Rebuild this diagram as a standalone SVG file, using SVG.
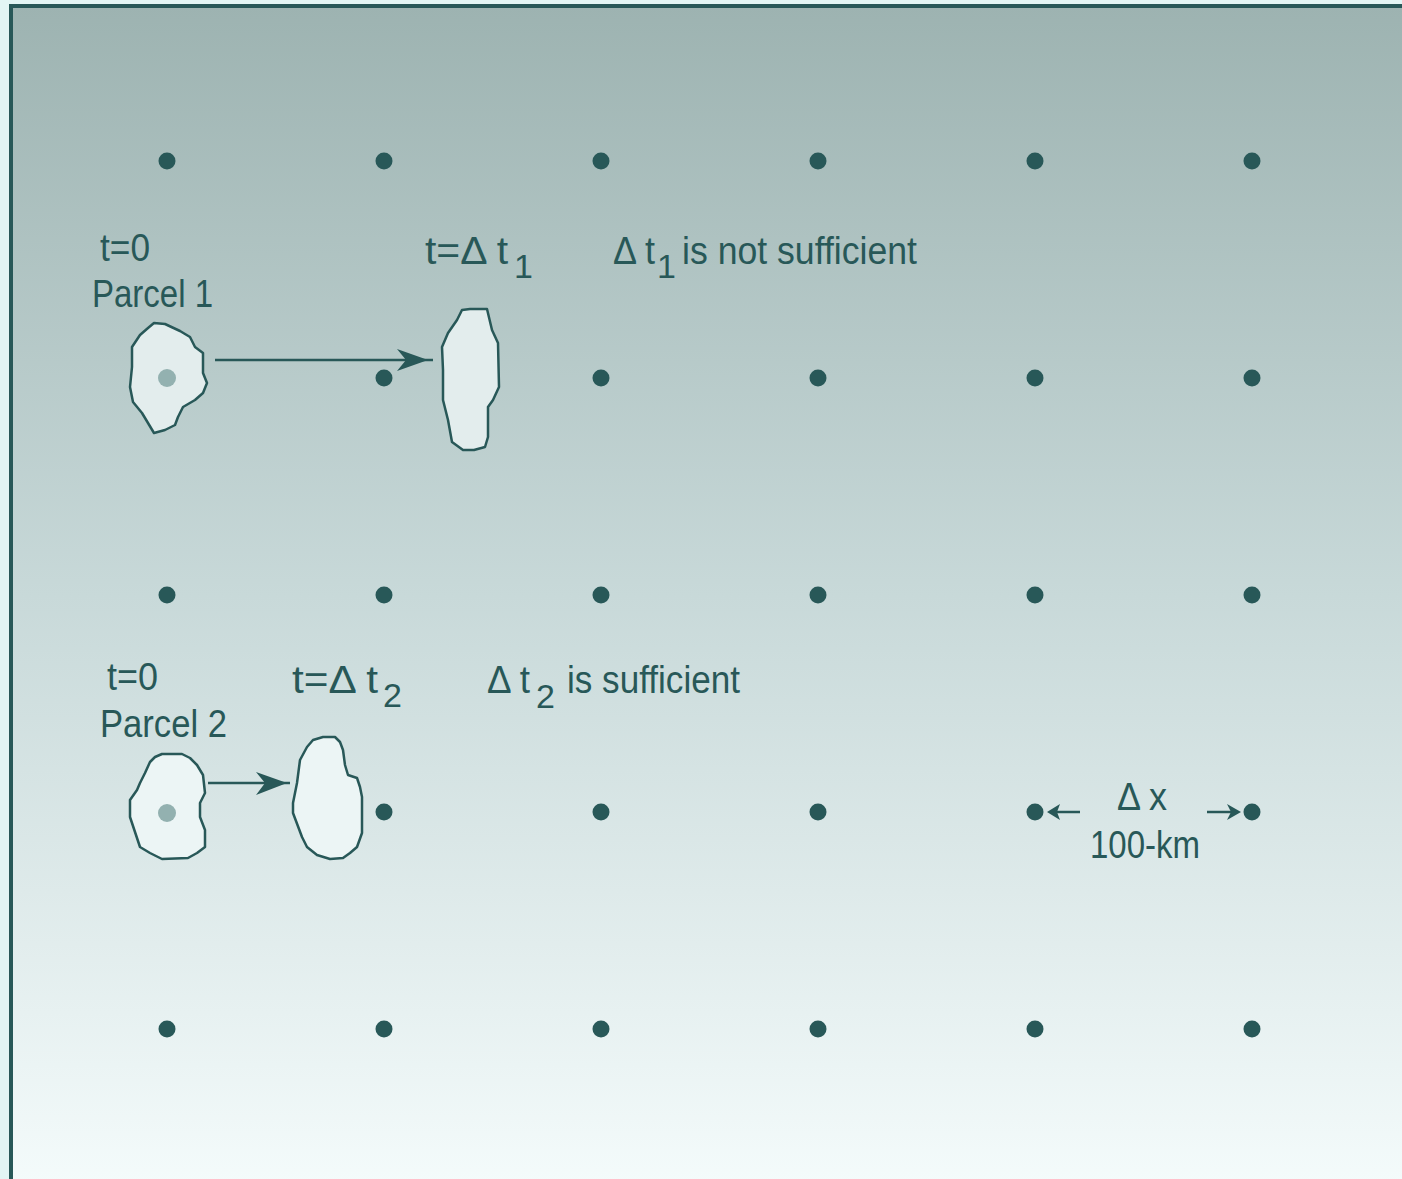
<svg xmlns="http://www.w3.org/2000/svg" width="1402" height="1179" viewBox="0 0 1402 1179">
  <defs>
    <linearGradient id="bg" x1="0" y1="0" x2="0" y2="1">
      <stop offset="0" stop-color="#9db3b1"/>
      <stop offset="0.5" stop-color="#c8d9d9"/>
      <stop offset="1" stop-color="#f4fbfb"/>
    </linearGradient>
    <style>
      .dot { fill: #285858; }
      .parcel { fill: #e3eded; stroke: #285858; stroke-width: 2.5; stroke-linejoin: round; }
      .parcel2 { fill: #ecf5f5; stroke: #285858; stroke-width: 2.5; stroke-linejoin: round; }
      .core { fill: #93b1b0; }
      .lbl { font-family: "Liberation Sans", Arial, sans-serif; font-size: 38px; fill: #285858; }
      .sub { font-family: "Liberation Sans", Arial, sans-serif; font-size: 34px; fill: #285858; }
      .line { stroke: #285858; stroke-width: 2.5; fill: none; }
      .head { fill: #285858; }
    </style>
  </defs>
  <rect x="0" y="0" width="1402" height="1179" fill="#e2f5f4"/>
  <rect x="11" y="6" width="1395" height="1180" fill="url(#bg)" stroke="#285858" stroke-width="4"/>

  <g id="grid">
    <circle class="dot" cx="167" cy="161" r="8.5"/>
    <circle class="dot" cx="384" cy="161" r="8.5"/>
    <circle class="dot" cx="601" cy="161" r="8.5"/>
    <circle class="dot" cx="818" cy="161" r="8.5"/>
    <circle class="dot" cx="1035" cy="161" r="8.5"/>
    <circle class="dot" cx="1252" cy="161" r="8.5"/>
    <circle class="dot" cx="384" cy="378" r="8.5"/>
    <circle class="dot" cx="601" cy="378" r="8.5"/>
    <circle class="dot" cx="818" cy="378" r="8.5"/>
    <circle class="dot" cx="1035" cy="378" r="8.5"/>
    <circle class="dot" cx="1252" cy="378" r="8.5"/>
    <circle class="dot" cx="167" cy="595" r="8.5"/>
    <circle class="dot" cx="384" cy="595" r="8.5"/>
    <circle class="dot" cx="601" cy="595" r="8.5"/>
    <circle class="dot" cx="818" cy="595" r="8.5"/>
    <circle class="dot" cx="1035" cy="595" r="8.5"/>
    <circle class="dot" cx="1252" cy="595" r="8.5"/>
    <circle class="dot" cx="384" cy="812" r="8.5"/>
    <circle class="dot" cx="601" cy="812" r="8.5"/>
    <circle class="dot" cx="818" cy="812" r="8.5"/>
    <circle class="dot" cx="1035" cy="812" r="8.5"/>
    <circle class="dot" cx="1252" cy="812" r="8.5"/>
    <circle class="dot" cx="167" cy="1029" r="8.5"/>
    <circle class="dot" cx="384" cy="1029" r="8.5"/>
    <circle class="dot" cx="601" cy="1029" r="8.5"/>
    <circle class="dot" cx="818" cy="1029" r="8.5"/>
    <circle class="dot" cx="1035" cy="1029" r="8.5"/>
    <circle class="dot" cx="1252" cy="1029" r="8.5"/>
  </g>

  <g id="parcel1-t0">
    <polygon class="parcel" points="154,323 165,324 180,331 190,337 195,347 203,353 203,373 207,383 203,393 195,400 183,407 178,417 175,425 165,430 154,433 148,423 142,413 133,402 130,387 132,367 132,347 140,335 148,328"/>
    <circle class="core" cx="167" cy="378" r="9"/>
  </g>
  <g id="parcel1-t1">
    <polygon class="parcel" points="462,310 470,309 487,309 492,330 498,343 499,387 493,400 488,407 488,437 485,447 474,450 463,450 452,442 448,420 443,400 443,370 442,347 448,333 457,320"/>
  </g>
  <g id="parcel2-t0">
    <polygon class="parcel2" points="155,757 162,754 182,754 190,758 197,765 203,775 205,793 200,803 200,817 205,830 205,847 197,853 188,858 162,859 150,853 140,847 135,832 130,817 130,800 137,790 140,783 145,773 150,762"/>
    <circle class="core" cx="167" cy="813" r="9"/>
  </g>
  <g id="parcel2-t2">
    <polygon class="parcel2" points="313,740 323,737 335,737 340,742 343,750 345,765 348,775 357,778 360,787 362,797 362,833 357,847 350,853 343,858 330,859 317,855 307,847 302,837 293,813 293,803 297,783 300,760 307,747"/>
  </g>

  <g id="connectors">
    <line class="line" x1="215" y1="360" x2="433" y2="360"/>
    <path class="head" d="M397,349 L428,360 L397,371 L406,360 Z"/>
    <line class="line" x1="208" y1="783" x2="290" y2="783"/>
    <path class="head" d="M256,772 L287,783 L256,795 L265,783 Z"/>
    <line class="line" x1="1056" y1="812" x2="1080" y2="812"/>
    <path class="head" d="M1047,812 L1060,804 L1057,812 L1060,820 Z"/>
    <line class="line" x1="1207" y1="812" x2="1232" y2="812"/>
    <path class="head" d="M1241,812 L1227,804 L1231,812 L1227,820 Z"/>
  </g>

  <g id="labels">
    <text class="lbl" x="100" y="261" textLength="50" lengthAdjust="spacingAndGlyphs">t=0</text>
    <text class="lbl" x="92" y="307" textLength="121" lengthAdjust="spacingAndGlyphs">Parcel 1</text>
    <text class="lbl" x="425" y="264" textLength="83" lengthAdjust="spacingAndGlyphs">t=Δ t</text>
    <text class="sub" x="514" y="278">1</text>
    <text class="lbl" x="613" y="264" textLength="42" lengthAdjust="spacingAndGlyphs">Δ t</text>
    <text class="sub" x="657" y="278">1</text>
    <text class="lbl" x="682" y="264" textLength="235" lengthAdjust="spacingAndGlyphs">is not sufficient</text>

    <text class="lbl" x="107" y="690" textLength="51" lengthAdjust="spacingAndGlyphs">t=0</text>
    <text class="lbl" x="100" y="737" textLength="127" lengthAdjust="spacingAndGlyphs">Parcel 2</text>
    <text class="lbl" x="292" y="693" textLength="86" lengthAdjust="spacingAndGlyphs">t=Δ t</text>
    <text class="sub" x="383" y="707">2</text>
    <text class="lbl" x="487" y="693" textLength="43" lengthAdjust="spacingAndGlyphs">Δ t</text>
    <text class="sub" x="536" y="708">2</text>
    <text class="lbl" x="567" y="693" textLength="173" lengthAdjust="spacingAndGlyphs">is sufficient</text>

    <text class="lbl" x="1117" y="810" textLength="50" lengthAdjust="spacingAndGlyphs">Δ x</text>
    <text class="lbl" x="1090" y="858" textLength="110" lengthAdjust="spacingAndGlyphs">100-km</text>
  </g>
</svg>
